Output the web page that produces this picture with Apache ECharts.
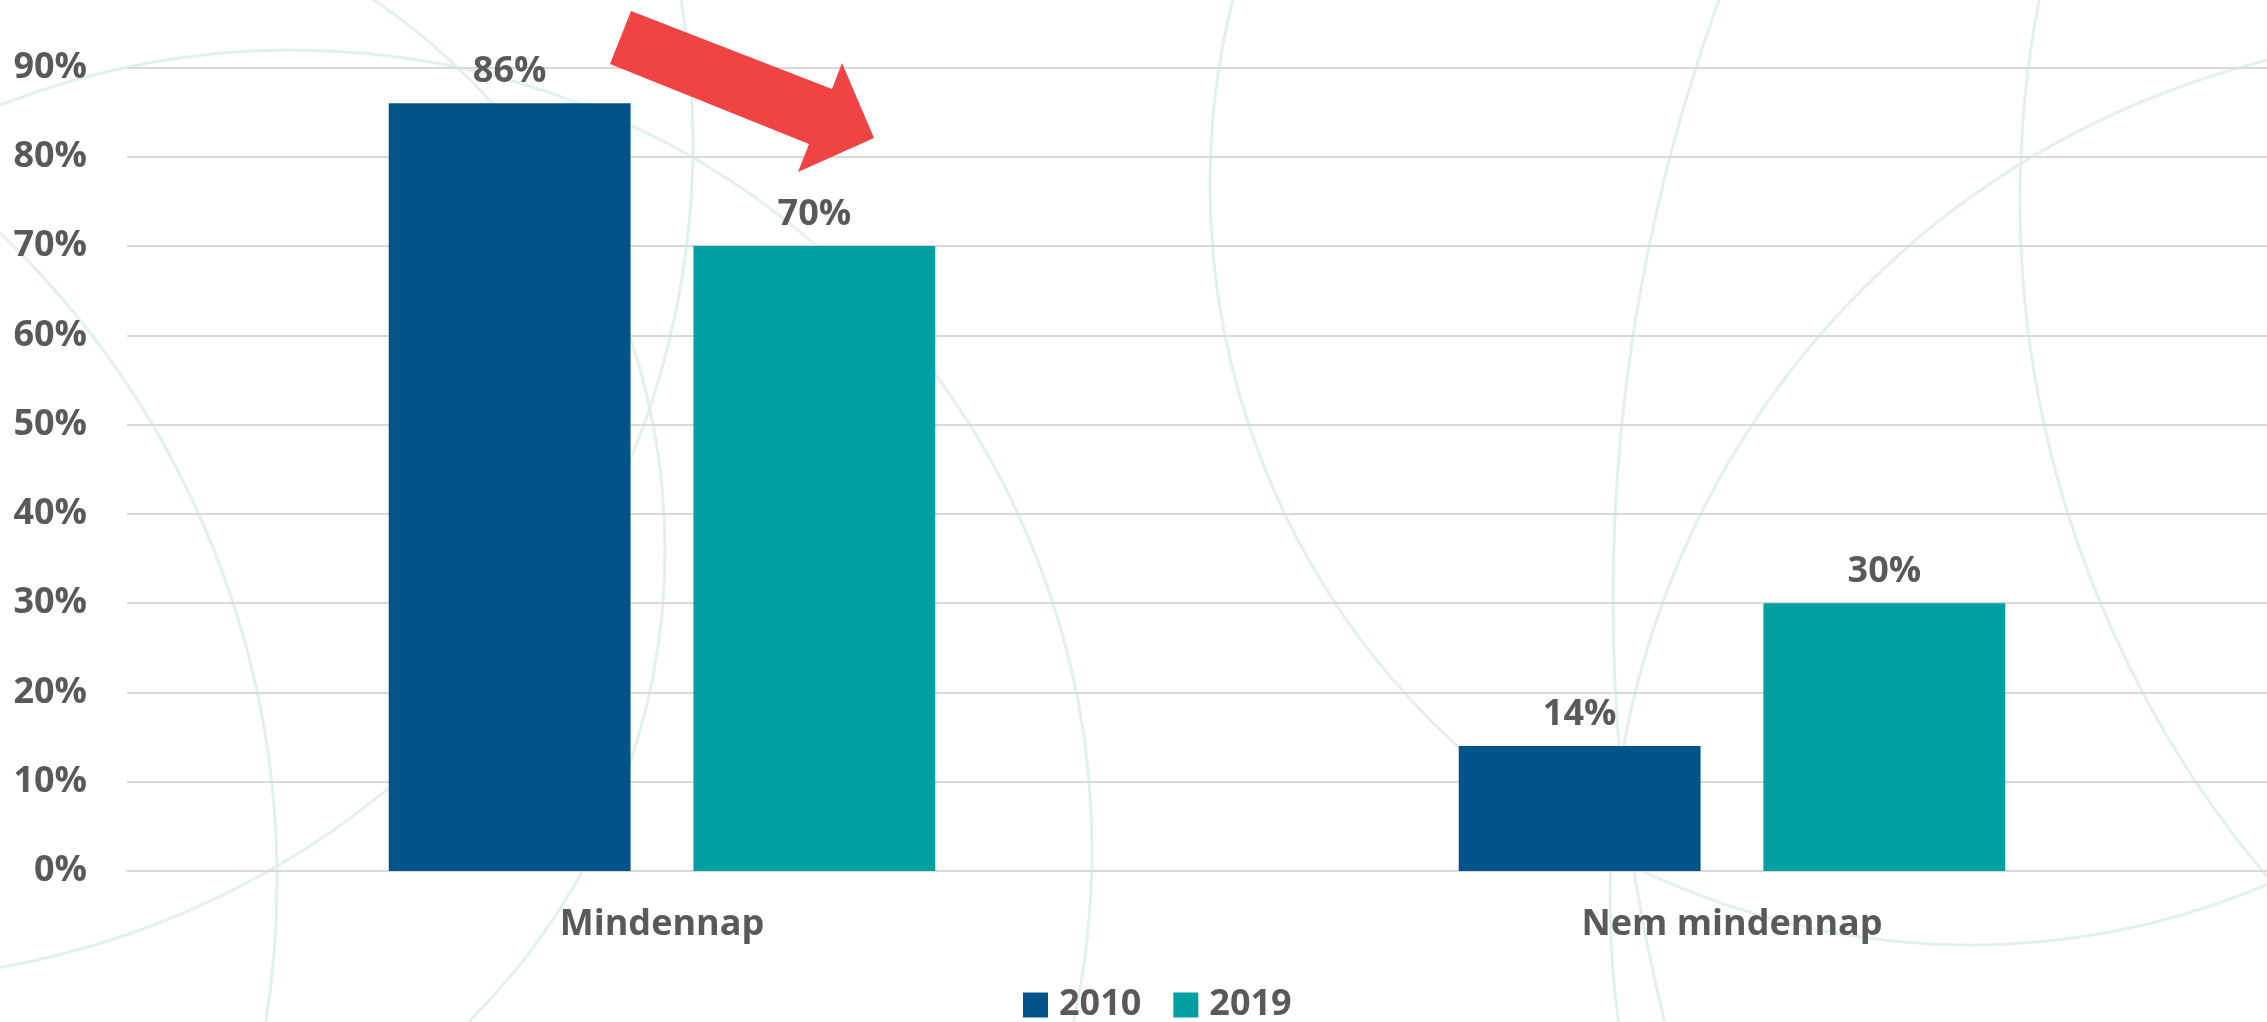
<!DOCTYPE html>
<html>
<head>
<meta charset="utf-8">
<script src="https://cdn.jsdelivr.net/npm/echarts@6/dist/echarts.min.js"></script>
<style>
  html, body { margin: 0; padding: 0; background: #ffffff; }
  #chart { width: 2267px; height: 1022px; }
</style>
</head>
<body>
<div id="chart"></div>
<script>
// Share of respondents, by frequency and survey year (percent)
const categories = ['Mindennap', 'Nem mindennap'];
const seriesNames = ['2010', '2019'];
const values2010 = [86, 14];
const values2019 = [70, 30];
const yMin = 0;
const yMax = 90;
const yStep = 10;

const FONT = '"Open Sans", "Liberation Sans", sans-serif';
const TEXT = '#595959';
const BLUE = '#01548A';
const TEAL = '#00A0A2';

// Faint decorative rings in the background
const rings = [
  [292, 850, 800],
  [0, 550, 665],
  [-145, 142, 838],
  [-617, 880, 894],
  [1970, 185, 760],
  [2475, 900, 865],
  [3364, 600, 1751],
  [3070, 200, 1050]
];

const ringElements = rings.map(([cx, cy, r]) => ({
  type: 'circle',
  silent: true,
  z: -100,
  shape: { cx, cy, r },
  style: { fill: 'none', stroke: '#e3f0ed', lineWidth: 3 }
}));

// Red "decrease" arrow over the first category
const arrow = {
  type: 'polygon',
  silent: true,
  z: 100,
  shape: {
    points: [[631, 11], [832, 89], [842, 63], [874, 138], [798, 172], [809, 144], [610, 64]]
  },
  style: { fill: '#F04343' }
};

const labelStyle = {
  show: true,
  position: 'top',
  distance: 13,
  formatter: '{c}%',
  color: TEXT,
  fontFamily: FONT,
  fontWeight: 'bold',
  fontSize: 36
};

const chart = echarts.init(document.getElementById('chart'), null, { renderer: 'canvas' });
chart.setOption({
  backgroundColor: '#ffffff',
  animation: false,
  graphic: { elements: ringElements.concat([arrow]) },
  grid: { left: 127, right: 0, top: 67.5, bottom: 151, containLabel: false },
  legend: {
    data: seriesNames,
    left: 1018,
    top: 982,
    itemWidth: 25,
    itemHeight: 25,
    itemGap: 32,
    icon: 'rect',
    textStyle: {
      color: TEXT,
      fontFamily: FONT,
      fontWeight: 'bold',
      fontSize: 36,
      padding: [0, 0, 0, 6]
    }
  },
  xAxis: {
    type: 'category',
    data: categories,
    axisLine: { show: true, lineStyle: { color: '#d9d9d9', width: 2 } },
    axisTick: { show: false },
    axisLabel: {
      margin: 36,
      color: TEXT,
      fontFamily: FONT,
      fontWeight: 'bold',
      fontSize: 36
    }
  },
  yAxis: {
    type: 'value',
    min: yMin,
    max: yMax,
    interval: yStep,
    axisLine: { show: false },
    axisTick: { show: false },
    splitLine: { lineStyle: { color: '#d9d9d9', width: 2 } },
    axisLabel: {
      margin: 40,
      formatter: '{value}%',
      color: TEXT,
      fontFamily: FONT,
      fontWeight: 'bold',
      fontSize: 36
    }
  },
  series: [
    {
      name: seriesNames[0],
      type: 'bar',
      data: values2010,
      barWidth: '22.6%',
      barGap: '26%',
      itemStyle: { color: BLUE },
      label: labelStyle
    },
    {
      name: seriesNames[1],
      type: 'bar',
      data: values2019,
      barWidth: '22.6%',
      barGap: '26%',
      itemStyle: { color: TEAL },
      label: labelStyle
    }
  ]
});
</script>
</body>
</html>
